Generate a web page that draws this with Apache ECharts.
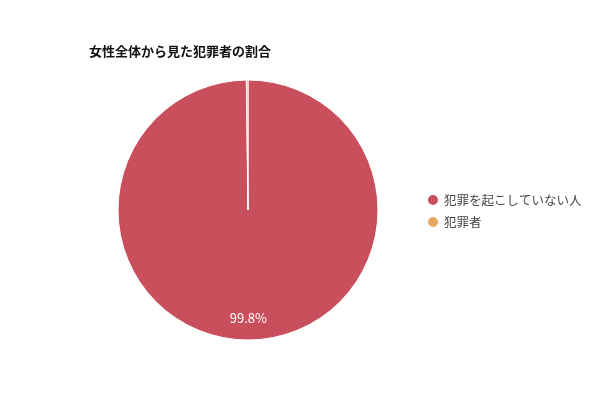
<!DOCTYPE html>
<html>
<head>
    <meta charset="UTF-8">
    <title>女性全体から見た犯罪者の割合</title>
    <style>
        html, body { margin: 0; padding: 0; background: #fff; }
        #chart { width: 600px; height: 400px; }
    </style>
</head>
<body>
<div id="chart"></div>
<script src="https://cdn.jsdelivr.net/npm/echarts@6/dist/echarts.min.js"></script>
<script>
    var titleText = '女性全体から見た犯罪者の割合';
    var categories = ['犯罪を起こしていない人', '犯罪者'];
    var values = [99.8, 0.2];
    var colors = ['#c94f5c', '#e8a862'];

    var font = '"Noto Sans CJK JP", "Noto Sans", sans-serif';
    var chart = echarts.init(document.getElementById('chart'));

    // only the big slice carries a percentage label
    var data = categories.map(function (name, i) {
        var item = { name: name, value: values[i] };
        if (i > 0) item.label = { show: false };
        return item;
    });

    chart.setOption({
        animation: false,
        color: colors,
        title: {
            text: titleText,
            left: 84,
            top: 40,
            textStyle: { fontFamily: font, fontSize: 13, fontWeight: 'bold', color: '#111' }
        },
        legend: {
            orient: 'vertical',
            left: 421,
            top: 188,
            icon: 'circle',
            itemWidth: 12,
            itemHeight: 12,
            itemGap: 8,
            textStyle: { fontFamily: font, fontSize: 12.5, color: '#444' },
            data: categories
        },
        series: [{
            type: 'pie',
            center: [248, 210],
            radius: [0, 130],
            startAngle: 90,
            clockwise: true,
            avoidLabelOverlap: false,
            itemStyle: { borderColor: '#fff', borderWidth: 1 },
            label: {
                show: true,
                position: 'inside',
                offset: [0, 40],
                formatter: '{d}%',
                color: '#fff',
                fontSize: 13,
                fontFamily: font
            },
            labelLine: { show: false },
            emphasis: { disabled: true },
            data: data
        }]
    });
</script>
</body>
</html>
